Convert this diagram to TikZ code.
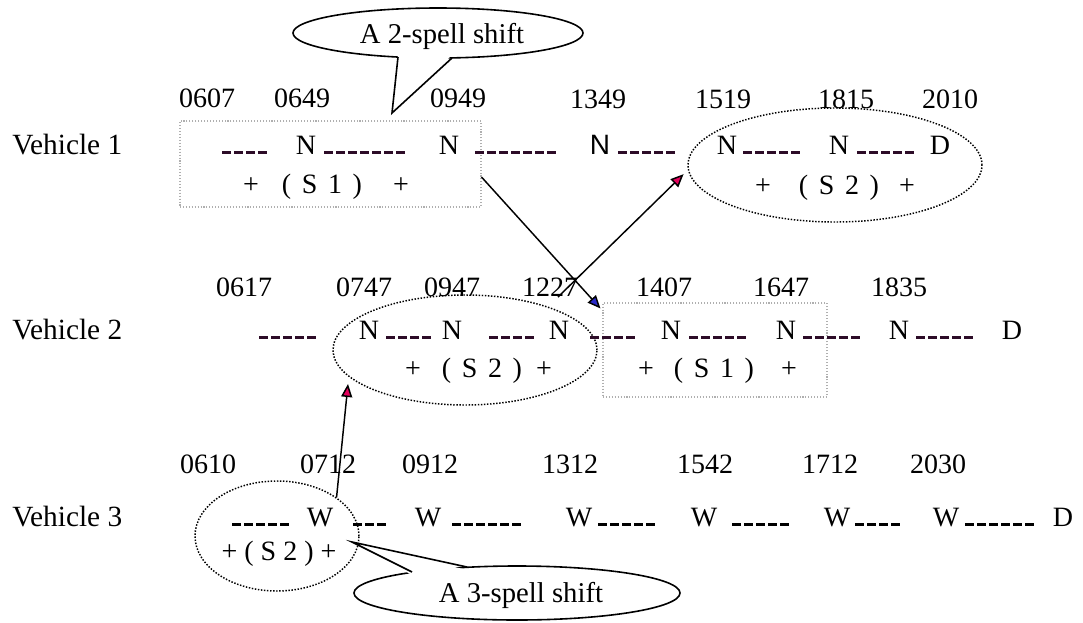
\documentclass[tikz,border=0pt]{standalone}
\usepackage{fontspec}
\setmainfont{Liberation Serif}
\newfontfamily\arialfont{Liberation Sans}
\usetikzlibrary{shapes.geometric,arrows.meta,calc}

\definecolor{dashink}{RGB}{45,12,40}
\definecolor{headpink}{RGB}{228,0,92}
\definecolor{headblue}{RGB}{40,40,200}
\definecolor{boxgray}{RGB}{175,175,175}

% a run of short thick dashes standing on the baseline
\newcommand\dashrun[1]{\rule{6.75pt}{2.2pt}\foreach\k in {2,...,#1}{\hspace{2.25pt}\rule{6.75pt}{2.2pt}}}

\begin{document}
\begin{tikzpicture}[x=0.75pt,y=-0.75pt,
  txt/.style={inner sep=0pt, anchor=base, font=\fontsize{21}{25}\selectfont},
  spell/.style={txt, font={\fontsize{21}{25}\selectfont\spaceskip=0.38em\relax}},
  lbl/.style={inner sep=0pt, anchor=base west, font=\fontsize{22}{26}\selectfont},
  dsh/.style={inner sep=0pt, anchor=base west, text=dashink},
  dotell/.style={ellipse, draw, line width=1.1pt, dash pattern=on 1.1pt off 1.2pt, inner sep=0pt},
  gbox/.style={rectangle, draw=boxgray, line width=0.8pt, dash pattern=on 0.8pt off 1.4pt, inner sep=0pt},
  balloon/.style={ellipse, draw, line width=1.2pt, fill=white, inner sep=0pt},
  btxt/.style={inner sep=0pt, anchor=base, font=\fontsize{21.5}{25}\selectfont},
  link/.style={line width=1.1pt, -{Triangle[length=9.75pt,width=8.25pt,fill=#1]}}]

\fill[white] (0,0) rectangle (1083,622);
\useasboundingbox (0,0) rectangle (1083,622);

% ---------- spell groupings ----------
\node[gbox, minimum width=225.75pt, minimum height=64.5pt] (box1) at (330.5,164) {};
\node[gbox, minimum width=168pt, minimum height=70.5pt] (box2) at (715,350) {};
\node[dotell, minimum width=220.5pt, minimum height=85.5pt] (e1) at (835,165) {};
\node[dotell, minimum width=198pt, minimum height=82.5pt] (e2) at (465,350) {};
\node[dotell, minimum width=123pt, minimum height=82.5pt] (e3) at (277,536) {};

% ---------- Vehicle 1 ----------
\node[lbl] (v1) at (12,154) {Vehicle 1};
\node[txt] (t11) at (207,107) {0607};
\node[txt] (t12) at (302,107) {0649};
\node[txt] (t13) at (458,107) {0949};
\node[txt] (t14) at (598,108) {1349};
\node[txt] (t15) at (723,108) {1519};
\node[txt] (t16) at (846,108) {1815};
\node[txt] (t17) at (950,108) {2010};

\node[dsh] (d11) at (222,154) {\dashrun{4}};
\node[txt] (n11) at (306,154) {N};
\node[dsh] (d12) at (324,154) {\dashrun{7}};
\node[txt] (n12) at (449,154) {N};
\node[dsh] (d13) at (475,154) {\dashrun{7}};
\node[txt, font=\fontsize{21}{25}\arialfont] (n13) at (600,154) {N};
\node[dsh] (d14) at (618,154) {\dashrun{5}};
\node[txt] (n14) at (727,154) {N};
\node[dsh] (d15) at (743,154) {\dashrun{5}};
\node[txt] (n15) at (839,154) {N};
\node[dsh] (d16) at (857,154) {\dashrun{5}};
\node[txt] (n16) at (940,154) {D};

\node[txt] (p11) at (251,193) {+};
\node[spell] (s11) at (322,193) {( S 1 )};
\node[txt] (p12) at (401,193) {+};
\node[txt] (p13) at (763,194) {+};
\node[spell] (s12) at (839,194) {( S 2 )};
\node[txt] (p14) at (907,194) {+};

% ---------- Vehicle 2 ----------
\node[lbl] (v2) at (12,339) {Vehicle 2};
\node[txt] (t21) at (244,296) {0617};
\node[txt] (t22) at (364,296) {0747};
\node[txt] (t23) at (452,296) {0947};
\node[txt] (t24) at (550,296) {1227};
\node[txt] (t25) at (664,296) {1407};
\node[txt] (t26) at (781,296) {1647};
\node[txt] (t27) at (899,296) {1835};

\node[dsh] (d21) at (259,339) {\dashrun{5}};
\node[txt] (n21) at (369,339) {N};
\node[dsh] (d22) at (386,339) {\dashrun{4}};
\node[txt] (n22) at (452,339) {N};
\node[dsh] (d23) at (489,339) {\dashrun{4}};
\node[txt] (n23) at (559,339) {N};
\node[dsh] (d24) at (590,339) {\dashrun{4}};
\node[txt] (n24) at (671,339) {N};
\node[dsh] (d25) at (689,339) {\dashrun{5}};
\node[txt] (n25) at (786,339) {N};
\node[dsh] (d26) at (803,339) {\dashrun{5}};
\node[txt] (n26) at (899,339) {N};
\node[dsh] (d27) at (916,339) {\dashrun{5}};
\node[txt] (n27) at (1012,339) {D};

\node[txt] (p21) at (413,377) {+};
\node[spell] (s21) at (482,377) {( S 2 )};
\node[txt] (p22) at (544,377) {+};
\node[txt] (p23) at (646,377) {+};
\node[spell] (s22) at (714,377) {( S 1 )};
\node[txt] (p24) at (789,377) {+};

% ---------- Vehicle 3 ----------
\node[lbl] (v3) at (12,526) {Vehicle 3};
\node[txt] (t31) at (208,473) {0610};
\node[txt] (t32) at (328,473) {0712};
\node[txt] (t33) at (430,473) {0912};
\node[txt] (t34) at (570,473) {1312};
\node[txt] (t35) at (705,473) {1542};
\node[txt] (t36) at (830,473) {1712};
\node[txt] (t37) at (938,473) {2030};

\node[dsh, text=black] (d31) at (232,526) {\dashrun{5}};
\node[txt] (w31) at (320,526) {W};
\node[dsh, text=black] (d32) at (353,526) {\dashrun{3}};
\node[txt] (w32) at (428,526) {W};
\node[dsh, text=black] (d33) at (452,526) {\dashrun{6}};
\node[txt] (w33) at (579,526) {W};
\node[dsh, text=black] (d34) at (598,526) {\dashrun{5}};
\node[txt] (w34) at (704,526) {W};
\node[dsh, text=black] (d35) at (732,526) {\dashrun{5}};
\node[txt] (w35) at (837,526) {W};
\node[dsh, text=black] (d36) at (855,526) {\dashrun{4}};
\node[txt] (w36) at (946,526) {W};
\node[dsh, text=black] (d37) at (965,526) {\dashrun{6}};
\node[txt] (n37) at (1063,526) {D};

\node[txt] (s31) at (279,560) {+ ( S 2 ) +};

% ---------- shifted spells ----------
\draw[link=headblue] ($(box1.north east)!0.65!(box1.south east)$) -- ($(box2.north west)+(-2,6)$);
\draw[link=headpink] ($(e2.center)+(93,-53)$) -- ($(e1.184)+(-6,-1)$);
\draw[link=headpink] (e3.33) -- ($(e2.center)+(-117,34)$);

% ---------- call-outs ----------
\node[balloon, minimum width=217.5pt, minimum height=37.5pt] (bal1) at (438,33) {};
\coordinate (b1l) at (398,57);
\coordinate (b1t) at (392,113);
\coordinate (b1r) at (452,58);
\fill[white] ($(b1l)+(0,-3)$) -- (b1t) -- ($(b1r)+(0,-3)$) -- cycle;
\draw[line width=1.2pt] (b1l) -- (b1t) -- (b1r);
\node[btxt] (c1) at (442,43) {A 2-spell shift};

\node[balloon, minimum width=244.5pt, minimum height=40.5pt] (bal2) at (517,593) {};
\coordinate (b2l) at (412,572);
\coordinate (b2t) at (352,542);
\coordinate (b2r) at (467,567);
\fill[white] ($(b2l)+(0,3)$) -- (b2t) -- ($(b2r)+(0,3)$) -- cycle;
\draw[line width=1.2pt] (b2l) -- (b2t) -- (b2r);
\node[btxt] (c2) at (521,602) {A 3-spell shift};

\end{tikzpicture}
\end{document}
